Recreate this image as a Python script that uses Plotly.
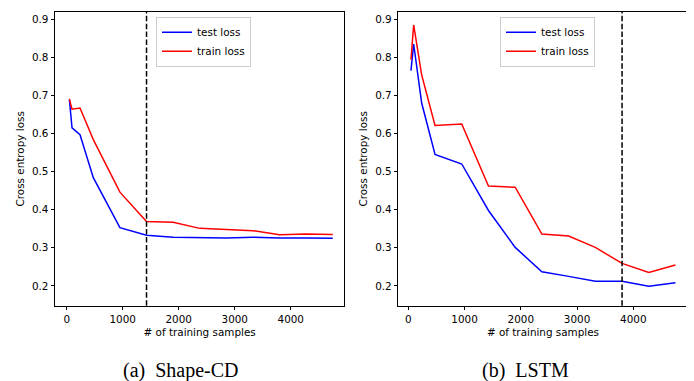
import plotly.graph_objects as go

# ---- data ----
samples = [47.5, 95, 237.5, 475, 950, 1425, 1900, 2375, 2850, 3325, 3800, 4275, 4750]

shape_test = [0.689, 0.615, 0.597, 0.484, 0.353, 0.333, 0.328, 0.327, 0.326, 0.328, 0.326, 0.326, 0.325]
shape_train = [0.691, 0.664, 0.667, 0.584, 0.446, 0.369, 0.367, 0.351, 0.348, 0.345, 0.334, 0.336, 0.335]

lstm_test = [0.765, 0.835, 0.680, 0.545, 0.520, 0.398, 0.301, 0.237, 0.225, 0.212, 0.212, 0.199, 0.208]
lstm_train = [0.794, 0.885, 0.754, 0.621, 0.625, 0.462, 0.459, 0.336, 0.331, 0.301, 0.259, 0.235, 0.255]

shape_cut = 1425
lstm_cut = 3800

x_ticks = [0, 1000, 2000, 3000, 4000]
y_ticks = [0.2, 0.3, 0.4, 0.5, 0.6, 0.7, 0.8, 0.9]

captions = ["(a)\u00a0\u00a0Shape-CD", "(b)\u00a0\u00a0LSTM"]

# ---- figure ----
W, H = 694, 381
OFF = 8  # page body margin of the browser


def px(x):
    return (x - OFF) / W


def py(y):
    return 1 - (y - OFF) / H


fig = go.Figure()

fig.add_trace(go.Scatter(x=samples, y=shape_test, mode="lines", name="test loss",
                         line=dict(color="#0000ff", width=1.5), xaxis="x", yaxis="y", legend="legend"))
fig.add_trace(go.Scatter(x=samples, y=shape_train, mode="lines", name="train loss",
                         line=dict(color="#ff0000", width=1.5), xaxis="x", yaxis="y", legend="legend"))
fig.add_trace(go.Scatter(x=samples, y=lstm_test, mode="lines", name="test loss",
                         line=dict(color="#0000ff", width=1.5), xaxis="x2", yaxis="y2", legend="legend2"))
fig.add_trace(go.Scatter(x=samples, y=lstm_train, mode="lines", name="train loss",
                         line=dict(color="#ff0000", width=1.5), xaxis="x2", yaxis="y2", legend="legend2"))

tick_font = dict(family="DejaVu Sans", size=10.4, color="#000000")
common_axis = dict(showline=True, linecolor="#000000", linewidth=1, mirror=True,
                   showgrid=False, zeroline=False, ticks="outside", ticklen=3.5,
                   tickwidth=0.8, tickcolor="#000000", tickfont=tick_font)

yd = [py(305.7), py(12)]
legend_style = dict(xanchor="left", yanchor="top", bgcolor="white",
                    bordercolor="#cccccc", borderwidth=1, itemwidth=30,
                    font=dict(family="DejaVu Sans", size=10.4, color="#000000"))

fig.update_layout(
    width=W, height=H,
    margin=dict(l=0, r=0, t=0, b=0),
    paper_bgcolor="white", plot_bgcolor="white",
    font=dict(family="DejaVu Sans", size=10.4, color="#000000"),
    xaxis=dict(domain=[px(55), px(344.3)], range=[-209, 4956], tickvals=x_ticks,
               title=dict(text="# of training samples", standoff=5, font=tick_font),
               anchor="y", **common_axis),
    yaxis=dict(domain=yd, range=[0.148, 0.919], tickvals=y_ticks, tickformat=".1f",
               title=dict(text="Cross entropy loss", standoff=5, font=tick_font),
               anchor="x", **common_axis),
    xaxis2=dict(domain=[px(398.3), px(687.7)], range=[-178, 4967], tickvals=x_ticks,
                title=dict(text="# of training samples", standoff=5, font=tick_font),
                anchor="y2", **common_axis),
    yaxis2=dict(domain=yd, range=[0.148, 0.919], tickvals=y_ticks, tickformat=".1f",
                title=dict(text="Cross entropy loss", standoff=5, font=tick_font),
                anchor="x2", **common_axis),
    legend=dict(x=px(156), y=py(16.7), **legend_style),
    legend2=dict(x=px(500), y=py(16.7), **legend_style),
    showlegend=True,
)

fig.add_shape(type="line", xref="x", yref="y domain", x0=shape_cut, x1=shape_cut, y0=0, y1=1,
              line=dict(color="#000000", width=1.5, dash="5.5px,2.4px"))
fig.add_shape(type="line", xref="x2", yref="y2 domain", x0=lstm_cut, x1=lstm_cut, y0=0, y1=1,
              line=dict(color="#000000", width=1.5, dash="5.5px,2.4px"))

for cx, txt in zip([181, 525], captions):
    fig.add_annotation(text=txt, x=px(cx), y=py(370), xref="paper", yref="paper",
                       xanchor="center", yanchor="middle", showarrow=False,
                       font=dict(family="Liberation Serif", size=20, color="#000000"))

fig.write_html("out.html")
